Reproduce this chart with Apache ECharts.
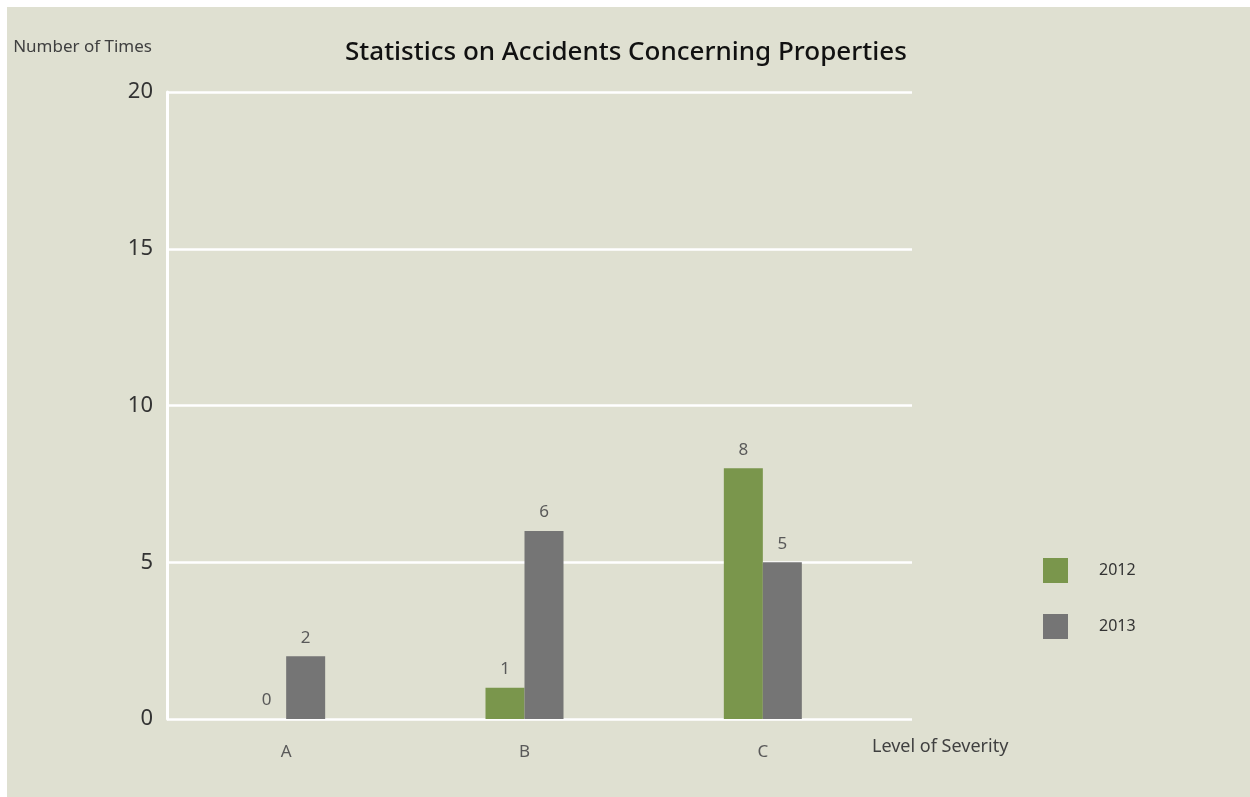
<!DOCTYPE html>
<html>
<head>
<meta charset="utf-8">
<title>Statistics on Accidents Concerning Properties</title>
<script src="https://cdn.jsdelivr.net/npm/echarts@6/dist/echarts.min.js"></script>
<style>
  html, body { margin: 0; padding: 0; background: #ffffff; }
  #chart { width: 1250px; height: 797px; }
</style>
</head>
<body>
<div id="chart"></div>
<script>
// Severity levels on the x axis
const categories = ['A', 'B', 'C'];
// Number of accidents per year
const values2012 = [0, 1, 8];
const values2013 = [2, 6, 5];
// Value axis ticks
const yTicks = [0, 5, 10, 15, 20];

const FONT = '"Noto Sans", "Open Sans", sans-serif';
const BG = '#dfe0d1';
const GREEN = '#7a964c';
const GREY = '#757575';

const chart = echarts.init(document.getElementById('chart'), null, { renderer: 'canvas' });

chart.setOption({
  backgroundColor: '#ffffff',
  animation: false,
  textStyle: { fontFamily: FONT },
  graphic: [{
    type: 'rect',
    left: 7, top: 7, z: -10,
    shape: { width: 1243, height: 790 },
    style: { fill: BG }
  }],
  title: {
    text: 'Statistics on Accidents Concerning Properties',
    left: 345, top: 40,
    padding: 0,
    textStyle: { fontFamily: FONT, fontSize: 26, fontWeight: 500, color: '#111111' }
  },
  legend: {
    orient: 'vertical',
    left: 1043, top: 558,
    padding: 0,
    itemWidth: 25, itemHeight: 25, itemGap: 31,
    icon: 'rect',
    data: ['2012', '2013'],
    textStyle: { fontFamily: FONT, fontSize: 16, color: '#333333', padding: [0, 0, 0, 26] }
  },
  grid: [
    // frame with gridlines
    { left: 167, right: 338, top: 92, bottom: 78 },
    // bars
    { left: 167, right: 368, top: 92, bottom: 78 }
  ],
  xAxis: [
    {
      type: 'category', gridIndex: 0, data: categories,
      show: false
    },
    {
      type: 'category', gridIndex: 1, data: categories,
      axisLine: { show: false },
      axisTick: { show: false },
      axisLabel: { fontFamily: FONT, fontSize: 17, color: '#595959', margin: 25 },
      name: 'Level of Severity',
      nameLocation: 'end',
      nameGap: -10,
      nameTextStyle: {
        fontFamily: FONT, fontSize: 18, color: '#404040',
        align: 'left', verticalAlign: 'top', padding: [19, 0, 0, 0]
      }
    }
  ],
  yAxis: [
    {
      type: 'value', gridIndex: 0,
      min: yTicks[0], max: yTicks[yTicks.length - 1], interval: 5,
      axisLine: { show: true, lineStyle: { color: '#ffffff', width: 3 } },
      axisTick: { show: false },
      splitLine: { show: true, lineStyle: { color: '#ffffff', width: 2.5 } },
      axisLabel: { fontFamily: FONT, fontSize: 22, color: '#333333', margin: 14 },
      name: 'Number of Times',
      nameLocation: 'end',
      nameGap: 45,
      nameTextStyle: {
        fontFamily: FONT, fontSize: 17, color: '#404040',
        align: 'right', verticalAlign: 'middle', padding: [0, 15, 0, 0]
      }
    },
    {
      type: 'value', gridIndex: 1,
      min: yTicks[0], max: yTicks[yTicks.length - 1], interval: 5,
      show: false, splitLine: { show: false }
    }
  ],
  series: [
    {
      name: '2012', type: 'bar',
      xAxisIndex: 1, yAxisIndex: 1,
      data: values2012,
      barWidth: 39, barGap: '0%',
      itemStyle: { color: GREEN },
      label: { show: true, position: 'top', distance: 10, fontFamily: FONT, fontSize: 17, color: '#595959' }
    },
    {
      name: '2013', type: 'bar',
      xAxisIndex: 1, yAxisIndex: 1,
      data: values2013,
      barWidth: 39, barGap: '0%',
      itemStyle: { color: GREY },
      label: { show: true, position: 'top', distance: 10, fontFamily: FONT, fontSize: 17, color: '#595959' }
    }
  ]
});
</script>
</body>
</html>
